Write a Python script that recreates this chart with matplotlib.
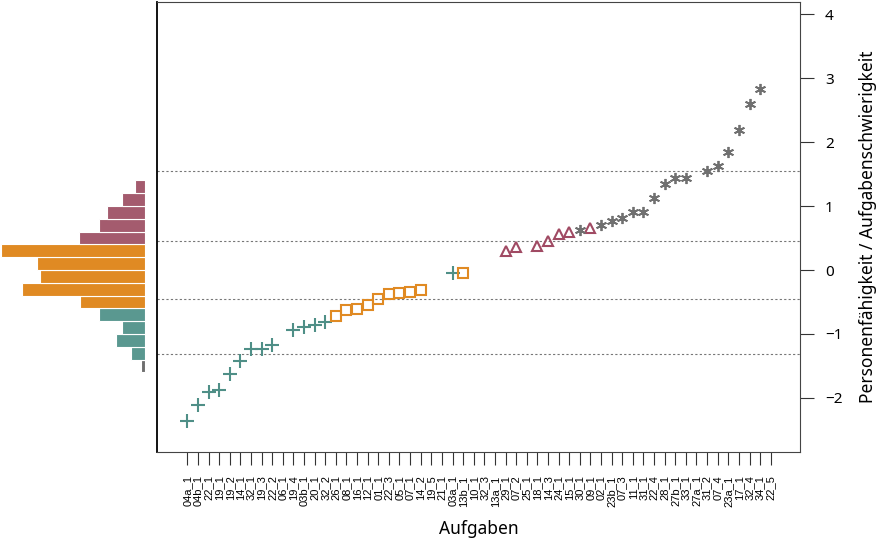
import numpy as np
import matplotlib.pyplot as plt

plt.rcParams['font.family'] = ['Noto Sans', 'DejaVu Sans']
plt.rcParams['font.size'] = 10

# Aufgaben in Reihenfolge der x-Achse
items = ['04a_1', '04b_1', '22_1', '19_1', '19_2', '14_1', '32_1', '19_3', '22_2', '06_1',
         '19_4', '03b_1', '20_1', '32_2', '26_1', '08_1', '16_1', '12_1', '01_1', '22_3',
         '05_1', '07_1', '14_2', '19_5', '21_1', '03a_1', '13b_1', '10_1', '32_3', '13a_1',
         '29_1', '07_2', '25_1', '18_1', '14_3', '24_1', '15_1', '30_1', '09_1', '02_1',
         '23b_1', '07_3', '11_1', '31_1', '22_4', '28_1', '27b_1', '33_1', '27a_1', '31_2',
         '07_4', '23a_1', '17_1', '32_4', '34_1', '22_5']

# Schwierigkeit je Aufgabe (nan = nicht eingezeichnet)
nan = np.nan
difficulty = [-2.36, -2.11, -1.91, -1.875, -1.62, -1.42, -1.23, -1.23, -1.17, nan,
              -0.93, -0.885, -0.865, -0.82, -0.72, -0.625, -0.61, -0.55, -0.45, -0.37,
              -0.36, -0.34, -0.31, nan, nan, -0.04, -0.04, nan, nan, nan,
              0.30, 0.36, nan, 0.38, 0.46, 0.56, 0.59, 0.62, 0.65, 0.71,
              0.77, 0.81, 0.90, 0.90, 1.12, 1.34, 1.44, 1.44, nan, 1.55,
              1.63, 1.84, 2.19, 2.59, 2.83, nan]

# Niveaustufe je Aufgabe (0 = keine)
level = [1, 1, 1, 1, 1, 1, 1, 1, 1, 0,
         1, 1, 1, 1, 2, 2, 2, 2, 2, 2,
         2, 2, 2, 0, 0, 1, 2, 0, 0, 0,
         3, 3, 0, 3, 3, 3, 3, 4, 3, 4,
         4, 4, 4, 4, 4, 4, 4, 4, 0, 4,
         4, 4, 4, 4, 4, 0]

# Schwellen zwischen den Stufen
thresholds = [-1.32, -0.46, 0.45, 1.55]

# Personenverteilung (Histogramm links)
bin_edges = [-1.6, -1.4, -1.2, -1.0, -0.8, -0.6, -0.4, -0.2, 0.0, 0.2, 0.4, 0.6, 0.8, 1.0, 1.2, 1.4]
person_freq = [0.3, 1.0, 2.0, 1.6, 3.2, 4.5, 8.5, 7.3, 7.5, 10.0, 4.6, 3.2, 2.6, 1.6, 0.7]
bin_level = [0, 1, 1, 1, 1, 2, 2, 2, 2, 2, 3, 3, 3, 3, 3]

hist_colors = {0: '#6e6e6e', 1: '#5a9890', 2: '#e08a23', 3: '#a45b6e'}
point_style = {
    1: dict(marker='+', color='#4f8f87', ms=10, mew=1.5, mfc='none'),
    2: dict(marker='s', color='#e08a23', ms=7, mew=1.5, mfc='none'),
    3: dict(marker='^', color='#a04a63', ms=7, mew=1.5, mfc='none'),
    4: dict(marker=(6, 2, 0), color='#707070', ms=8, mew=1.3, mfc='none'),
}

fig = plt.figure(figsize=(8.82, 5.49), dpi=100)
ax = fig.add_axes([157/882, 1 - 451.7/549, (800-157)/882, (451.7-2)/549])
axh = fig.add_axes([0, 1 - 451.7/549, 145/882, (451.7-2)/549])

ylim = (-2.84, 4.19)

# Punkte
x = np.arange(1, len(items) + 1)
diff = np.array(difficulty)
lev = np.array(level)
for k, st in point_style.items():
    m = lev == k
    ax.plot(x[m], diff[m], linestyle='none', **st)

for t in thresholds:
    ax.axhline(t, color='#777777', linestyle=(0, (2, 2)), linewidth=0.8, zorder=0)

ax.set_xlim(-1.86, 58.76)
ax.set_ylim(*ylim)
ax.set_xticks(x)
ax.set_xticklabels(items, rotation=90, fontsize=8, family=['Liberation Sans'])
ax.tick_params(axis='x', length=9, pad=8, color='#333333')
ax.yaxis.tick_right()
ax.set_yticks([-2, -1, 0, 1, 2, 3, 4])
ax.set_yticklabels(['\u22122', '\u22121', '0', '1', '2', '3', '4'])
ax.tick_params(axis='y', length=10, pad=8, color='#333333', labelsize=11)
ax.yaxis.set_label_position('right')
ax.set_ylabel('Personenfähigkeit / Aufgabenschwierigkeit', fontsize=12.5, labelpad=12)
ax.set_xlabel('Aufgaben', fontsize=12.5, labelpad=10)
for s in ['top', 'right', 'bottom']:
    ax.spines[s].set_color('#444444')
ax.spines['left'].set_color('black')
ax.spines['left'].set_linewidth(1.3)

# Histogramm
edges = np.array(bin_edges)
axh.barh(edges[:-1], person_freq, height=np.diff(edges), align='edge',
         color=[hist_colors[b] for b in bin_level], edgecolor='white', linewidth=0.8)
axh.set_xlim(10.05, 0)
axh.set_ylim(*ylim)
axh.axis('off')

fig.savefig('out.png', dpi=100)
